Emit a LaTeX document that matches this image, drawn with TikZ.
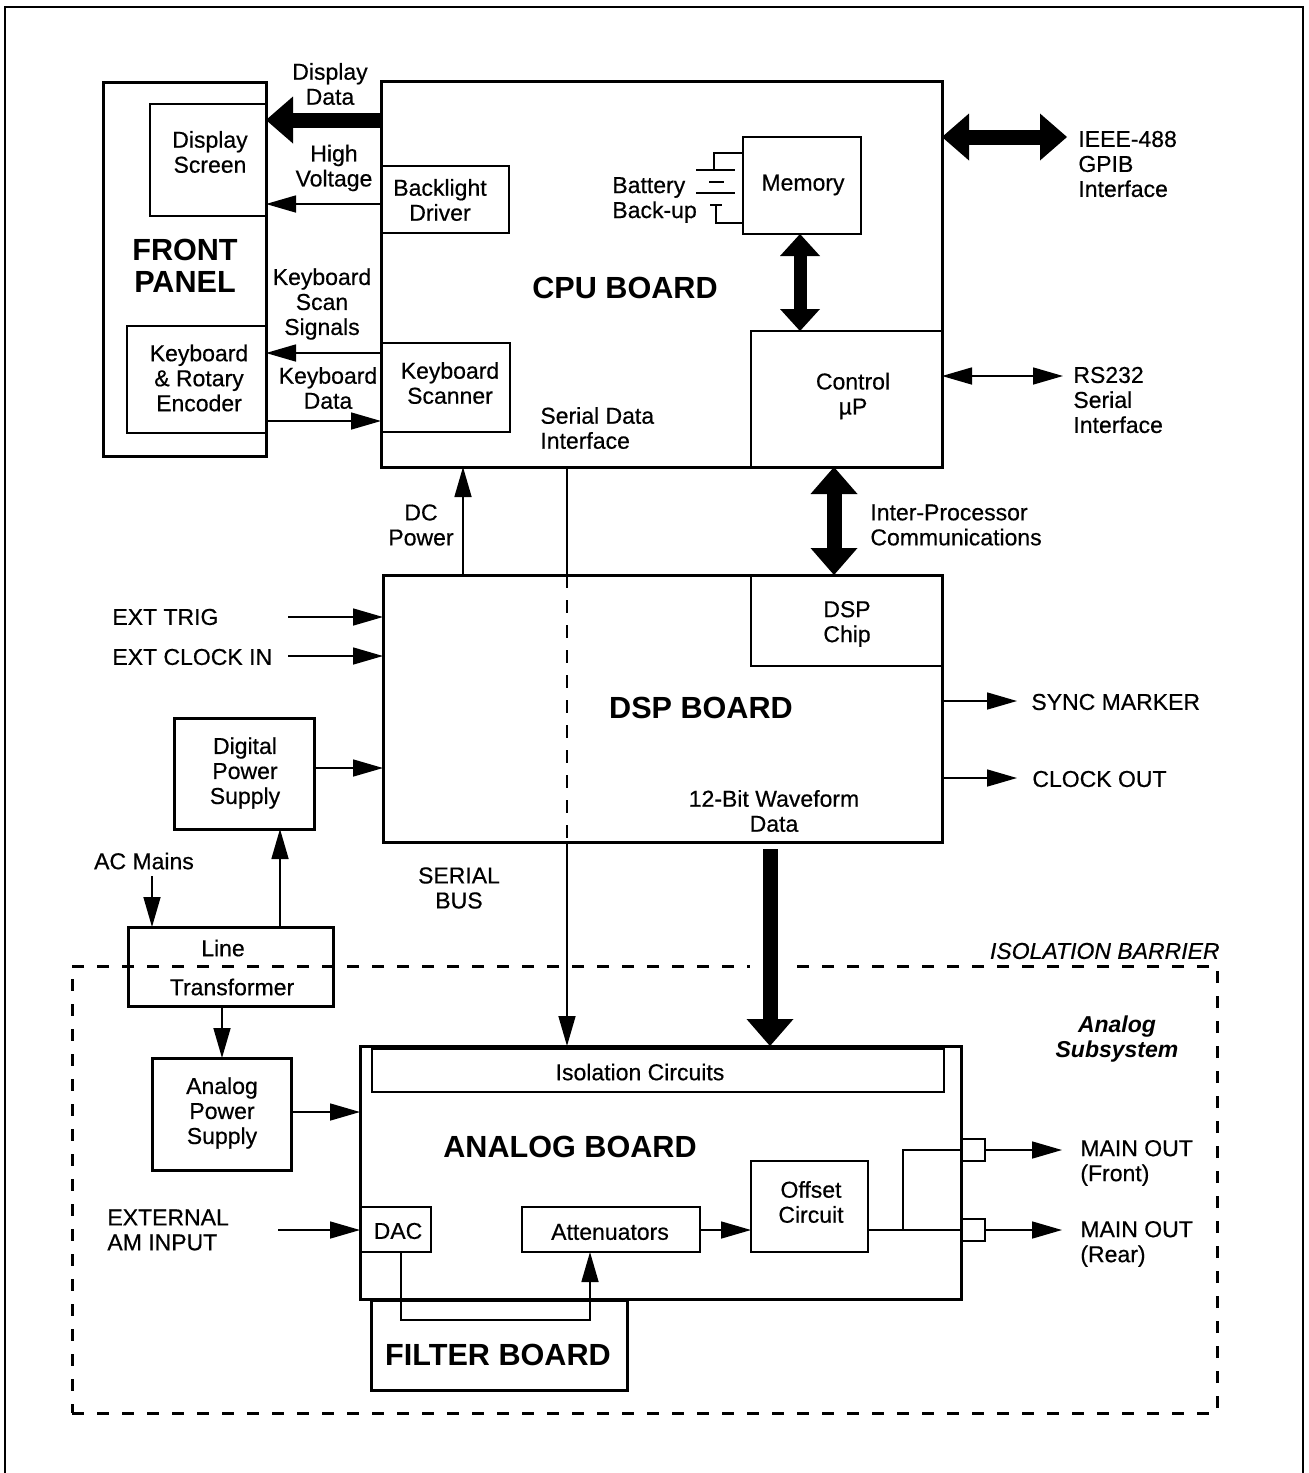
\documentclass[tikz,border=0pt]{standalone}
\usepackage{fontspec}
\setmainfont{Liberation Sans}
\newfontfamily\labelfont{Liberation Sans}[FakeBold=0.5]
\usetikzlibrary{arrows.meta,fit}
% a drawn box spanning two corners, given in pixel-like units
\newcommand\blk[6]{\node[#6,fit={(#2,#3) (#4,#5)}] (#1) {};}
\begin{document}
\begin{tikzpicture}[x=0.5pt,y=-0.5pt,
  board/.style={draw,line width=1.5pt,inner sep=0pt,outer sep=0pt},
  unit/.style={draw,line width=1pt,inner sep=0pt,outer sep=0pt},
  lbl/.style={font=\labelfont\fontsize{11.5}{12.5}\selectfont,align=center,inner sep=0pt},
  lbll/.style={lbl,align=left,anchor=west},
  bigl/.style={font=\fontsize{15.3}{16}\selectfont\bfseries,align=center,inner sep=0pt},
  sig/.style={line width=0.8pt,-{Triangle[length=15pt,width=8.5pt]}},
  sigtwo/.style={line width=0.8pt,{Triangle[length=15pt,width=8.5pt]}-{Triangle[length=15pt,width=8.5pt]}},
  fat/.style={line width=7.5pt,-{Triangle[length=13.5pt,width=23.5pt,line width=0pt]}},
  fattwo/.style={line width=7.5pt,{Triangle[length=13.5pt,width=23.5pt,line width=0pt]}-{Triangle[length=13.5pt,width=23.5pt,line width=0pt]}},
  fatsmall/.style={line width=6.5pt,{Triangle[length=11pt,width=20pt,line width=0pt]}-{Triangle[length=11pt,width=20pt,line width=0pt]}},
  barrier/.style={draw,line width=1.5pt,dash pattern=on 6pt off 6.5pt,inner sep=0pt,outer sep=0pt},
  wire/.style={line width=0.8pt}]
\useasboundingbox (0,0) rectangle (1308,1473);

% page frame
\draw[line width=0.8pt] (5,1473) -- (5,7) -- (1303,7) -- (1303,1473);

% ---------------- front panel ----------------
\blk{fp}{103}{82}{266}{456}{board}
\blk{ds}{150}{104}{266}{216}{unit}
\blk{kb}{127}{326}{266}{433}{unit}
\node[lbl] (dstxt) at (210,152) {Display\\Screen};
\node[bigl] (fptxt) at (185,266) {FRONT\\PANEL};
\node[lbl] (kbtxt) at (199,378) {Keyboard\\\& Rotary\\Encoder};

% ---------------- CPU board ----------------
\blk{cpu}{381}{81}{942}{467}{board}
\blk{bl}{381}{166}{509}{233}{unit}
\blk{ks}{381}{343}{510}{432}{unit}
\blk{mem}{743}{137}{861}{234}{unit}
\blk{ctrl}{751}{331}{942}{467}{unit}
\node[lbl] (bltxt) at (440,200) {Backlight\\Driver};
\node[lbl] (kstxt) at (450,383) {Keyboard\\Scanner};
\node[lbl] (memtxt) at (803,185) {Memory};
\node[lbl] (ctrltxt) at (853,396) {Control\\µP};
\node[bigl] (cputxt) at (625,288) {CPU BOARD};
\node[lbll] (battxt) at (612,200) {Battery\\Back-up};
\node[lbll] (sditxt) at (540,428) {Serial Data\\Interface};

% battery symbol feeding the memory
\draw[wire] (mem.west |- 0,153) -| (714,170);
\draw[wire] (696,170) -- (735,170) (709,182) -- (724,182)
            (696,193) -- (735,193) (710,205) -- (722,205);
\draw[wire] (716,205) |- (mem.west |- 0,223);

% front panel links
\node[lbl] (ddtxt) at (330,84) {Display\\Data};
\node[lbl] (hvtxt) at (334,168) {High\\Voltage};
\node[lbl] (kstxt2) at (322,304) {Keyboard\\Scan\\Signals};
\node[lbl] (kdtxt) at (328,388) {Keyboard\\Data};
\draw[fat] (cpu.west |- 0,120) -- (fp.east |- 0,120);
\draw[sig] (bl.west |- 0,204) -- (ds.east |- 0,204);
\draw[sig] (ks.west |- 0,353) -- (kb.east |- 0,353);
\draw[sig] (kb.east |- 0,421) -- (ks.west |- 0,421);

% external interfaces of the CPU board
\coordinate (gpib) at (1067,137);
\coordinate (rs) at (1063,376);
\draw[fattwo] (cpu.east |- gpib) -- (gpib);
\draw[sigtwo] (cpu.east |- rs) -- (rs);
\node[lbll] (gpibtxt) at (1078,164) {IEEE-488\\GPIB\\Interface};
\node[lbll] (rstxt) at (1073,400) {RS232\\Serial\\Interface};
\draw[fatsmall] (mem.south -| 800,0) -- (ctrl.north -| 800,0);

% ---------------- DSP board ----------------
\blk{dsp}{383}{575}{942}{842}{board}
\blk{chip}{751}{575}{942}{666}{unit}
\node[lbl] (chiptxt) at (847,624) {DSP\\Chip};
\node[bigl] (dsptxt) at (701,708) {DSP BOARD};
\node[lbl] (wftxt) at (774,811) {12-Bit Waveform\\Data};

\draw[fattwo] (cpu.south -| 834,0) -- (dsp.north -| 834,0);
\node[lbll] (iptxt) at (870,525) {Inter-Processor\\Communications};
\draw[sig] (dsp.north -| 463,0) -- (cpu.south -| 463,0);
\node[lbl] (dctxt) at (421,525) {DC\\Power};

\coordinate (trig) at (288,617);
\coordinate (clkin) at (288,656);
\node[lbll] (trigtxt) at (112,617) {EXT TRIG};
\node[lbll] (clkintxt) at (112,657) {EXT CLOCK IN};
\draw[sig] (trig) -- (dsp.west |- trig);
\draw[sig] (clkin) -- (dsp.west |- clkin);

\coordinate (sync) at (1017,701);
\coordinate (clkout) at (1017,778);
\draw[sig] (dsp.east |- sync) -- (sync);
\draw[sig] (dsp.east |- clkout) -- (clkout);
\node[lbll] (synctxt) at (1031,702) {SYNC MARKER};
\node[lbll] (clkouttxt) at (1032,779) {CLOCK OUT};

% ---------------- power ----------------
\blk{dps}{174}{718}{314}{829}{board}
\node[lbl] (dpstxt) at (245,773) {Digital\\Power\\Supply};
\draw[sig] (dps.east |- 0,768) -- (dsp.west |- 0,768);

\blk{lt}{128}{927}{333}{1006}{board}
\node[lbl] (lttxt1) at (223,948) {Line};
\node[lbl] (lttxt2) at (232,987) {Transformer};
\coordinate (ac) at (152,876);
\node[lbl] (actxt) at (144,861) {AC Mains};
\draw[sig] (ac) -- (lt.north -| ac);
\draw[sig] (lt.north -| 280,0) -- (dps.south -| 280,0);

\blk{aps}{152}{1058}{291}{1170}{board}
\node[lbl] (apstxt) at (222,1113) {Analog\\Power\\Supply};
\draw[sig] (lt.south -| 222,0) -- (aps.north -| 222,0);

\node[lbl] (sbtxt) at (459,888) {SERIAL\\BUS};

% ---------------- isolation barrier ----------------
\node[barrier,fit={(72,966) (1217,1413)}] (iso) {};
\node[lbl,font=\labelfont\fontsize{11.5}{12.5}\selectfont\itshape,anchor=east] (isotxt) at (1220,951) {ISOLATION BARRIER};
\node[lbl,font=\fontsize{11.5}{12.5}\selectfont\bfseries\itshape] (astxt) at (1117,1039) {Analog\\Subsystem};

% ---------------- analog and filter boards ----------------
\blk{fb}{371}{1300}{627}{1390}{board}
\blk{ab}{360}{1046}{961}{1299}{board}
\blk{ic}{372}{1049}{944}{1092}{unit}
\blk{dac}{360}{1207}{431}{1252}{unit}
\blk{att}{522}{1207}{700}{1252}{unit}
\blk{ofs}{751}{1161}{868}{1252}{unit}
\blk{cf}{961}{1139}{985}{1161}{unit}
\blk{cr}{961}{1219}{985}{1241}{unit}
\node[lbl] (ictxt) at (640,1072) {Isolation Circuits};
\node[bigl] (abtxt) at (570,1147) {ANALOG BOARD};
\node[lbl] (dactxt) at (398,1231) {DAC};
\node[lbl] (atttxt) at (610,1232) {Attenuators};
\node[lbl] (ofstxt) at (811,1202) {Offset\\Circuit};
\node[bigl] (fbtxt) at (498,1355) {FILTER BOARD};

\draw[sig] (aps.east |- 0,1112) -- (ab.west |- 0,1112);
\coordinate (am) at (278,1230);
\node[lbll] (amtxt) at (107,1230) {EXTERNAL\\AM INPUT};
\draw[sig] (am) -- (dac.west |- am);
\draw[sig] (att.east |- 0,1230) -- (ofs.west |- 0,1230);
\draw[sig] (dac.south -| 401,0) -- (401,1320) -| (att.south -| 590,0);
\draw[wire] (ofs.east |- cr.west) -- (cr.west);
\draw[wire] (903,1230) |- (cf.west);
\coordinate (mof) at (1062,1150);
\coordinate (mor) at (1062,1230);
\draw[sig] (cf.east) -- (mof);
\draw[sig] (cr.east) -- (mor);
\node[lbll] (moftxt) at (1080,1163) {MAIN OUT\\(Front)};
\node[lbll] (mortxt) at (1080,1244) {MAIN OUT\\(Rear)};

% serial bus: solid, dashed through the DSP board, then down to the isolators
\draw[wire] (cpu.south -| 567,0) -- (dsp.north -| 567,0);
\draw[wire,dash pattern=on 6.5pt off 6pt] (dsp.north -| 567,0) -- (dsp.south -| 567,0);
\draw[sig] (dsp.south -| 567,0) -- (ab.north -| 567,0);

% 12-bit waveform data bus, cutting through the barrier line
\coordinate (wf) at (770,849);
\draw[white,line width=20pt] (770,955) -- (770,977);
\draw[fat] (wf) -- (ab.north -| wf);
\end{tikzpicture}
\end{document}
